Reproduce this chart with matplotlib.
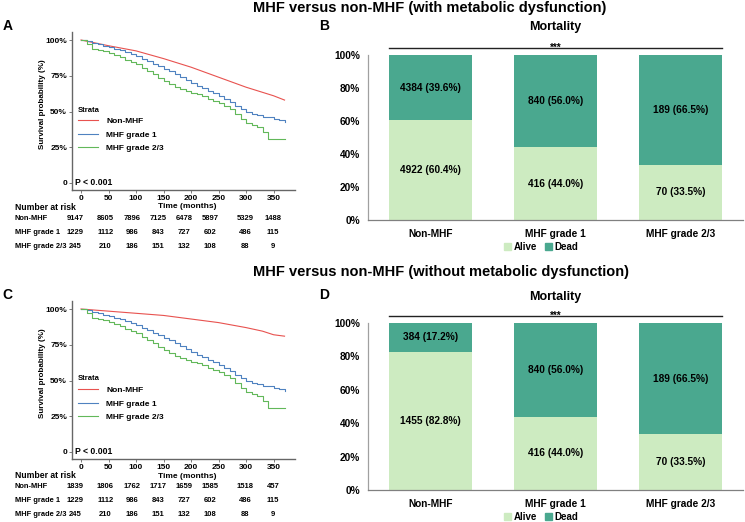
import matplotlib
matplotlib.use("Agg")
import matplotlib.pyplot as plt
from matplotlib.lines import Line2D
from matplotlib.patches import Patch
from matplotlib.transforms import blended_transform_factory

plt.rcParams['font.family'] = ['Liberation Sans', 'DejaVu Sans']
plt.rcParams['font.weight'] = 'bold'
plt.rcParams['axes.labelweight'] = 'bold'

# ---- Kaplan-Meier data ----
t_smooth = [0, 50, 100, 150, 200, 250, 300, 330, 350, 370]
surv_nonmhf_md = [100, 96, 92.4, 87, 81, 74, 67, 63.4, 61, 58]
surv_nonmhf_nomd = [100, 98.5, 97, 95.5, 93, 90.5, 87, 84.5, 82, 81]

t_step = [0, 10, 20, 30, 40, 50, 60, 70, 80, 90, 100, 110, 120, 130, 140, 150,
          160, 170, 180, 190, 200, 210, 220, 230, 240, 250, 260, 270, 280, 290,
          300, 310, 320, 330, 340, 350, 360, 370]
surv_grade1 = [100, 99, 98, 97, 96, 95, 94, 93, 91.5, 90.5, 89, 87, 85.5, 83.5,
               82, 80, 78, 76, 74, 72, 70, 68, 66.5, 64.5, 63, 61, 59, 56.5, 54,
               52, 50, 48.5, 47.5, 46.5, 46, 45, 44, 43]
surv_grade23 = [100, 97, 94, 93, 92, 91, 89.5, 88, 86, 84.5, 83, 80.5, 78, 76,
                73.5, 71.5, 69, 67, 65.5, 64, 63, 62, 60.5, 59, 57.5, 56, 54,
                51.5, 48, 44.5, 42, 40.5, 39, 36, 31, 31, 31, 31]

time_ticks = [0, 50, 100, 150, 200, 250, 300, 350]
risk_cols = [-10, 44, 93, 140, 187, 235, 298, 349]
groups = ['Non-MHF', 'MHF grade 1', 'MHF grade 2/3']
risk_nonmhf_md = [9147, 8605, 7896, 7125, 6478, 5897, 5329, 1488]
risk_nonmhf_nomd = [1839, 1806, 1762, 1717, 1659, 1585, 1518, 457]
risk_grade1 = [1229, 1112, 986, 843, 727, 602, 486, 115]
risk_grade23 = [245, 210, 186, 151, 132, 108, 88, 9]

# ---- Mortality bar data ----
alive_n_md = [4922, 416, 70]
alive_pct_md = [60.4, 44.0, 33.5]
dead_n_md = [4384, 840, 189]
dead_pct_md = [39.6, 56.0, 66.5]
alive_n_nomd = [1455, 416, 70]
alive_pct_nomd = [82.8, 44.0, 33.5]
dead_n_nomd = [384, 840, 189]
dead_pct_nomd = [17.2, 56.0, 66.5]

RED, BLUE, GREEN = '#e8524f', '#4f82c0', '#62b85a'
ALIVE, DEAD = '#cdebc1', '#4aa88f'

W, H = 745, 522
fig = plt.figure(figsize=(W / 100, H / 100), dpi=100)


def box(l, t, r, b):
    return [l / W, 1 - b / H, (r - l) / W, (b - t) / H]


def ftext(x, y, s, **kw):
    fig.text(x / W, 1 - y / H, s, **kw)


def draw_km(top, red_vals, risk_red):
    ax = fig.add_axes(box(72, top, 295, top + 158))
    ax.plot(t_smooth, red_vals, color=RED, lw=0.8)
    ax.plot(t_step, surv_grade1, color=BLUE, lw=0.8, drawstyle='steps-post')
    ax.plot(t_step, surv_grade23, color=GREEN, lw=0.8, drawstyle='steps-post')
    ax.set_xlim(-16.4, 389)
    ax.set_ylim(-4.9, 105.6)
    ax.set_xticks(time_ticks)
    ax.set_yticks([0, 25, 50, 75, 100])
    ax.set_yticklabels(['0', '25%', '50%', '75%', '100%'])
    for s in ['top', 'right']:
        ax.spines[s].set_visible(False)
    for s in ['left', 'bottom']:
        ax.spines[s].set_color('#666666')
        ax.spines[s].set_linewidth(1.0)
    ax.tick_params(labelsize=6, length=2, width=0.6, color='#666666', pad=1.5)
    ax.text(-11, 0, 'P < 0.001', fontsize=6.2, va='center', ha='left')
    # legend
    ftext(78, top + 78, 'Strata', fontsize=5.5, va='center')
    handles = [Line2D([], [], color=c, lw=0.8) for c in (RED, BLUE, GREEN)]
    ax.legend(handles, groups, loc='upper left',
              bbox_to_anchor=(74 / W, 1 - (top + 81) / H),
              bbox_transform=fig.transFigure, frameon=False,
              fontsize=6, handlelength=2.4, handletextpad=1.0,
              labelspacing=0.7, borderpad=0)
    ftext(43, top + 72, 'Survival probability (%)', rotation=90,
          ha='center', va='center', fontsize=5.8)
    # number at risk table
    ftext(15, top + 175, 'Number at risk', fontsize=6.2, va='center')
    ftext(187, top + 175, 'Time (months)', fontsize=6, va='center', ha='center')
    tr = blended_transform_factory(ax.transData, fig.transFigure)
    rows = [risk_red, risk_grade1, risk_grade23]
    for i, (g, vals) in enumerate(zip(groups, rows)):
        y = 1 - (top + 186 + 14 * i) / H
        fig.text(15 / W, y, g, fontsize=5.4, va='center')
        for c, v in zip(risk_cols, vals):
            ax.text(c, y, str(v), transform=tr, fontsize=5.5,
                    ha='center', va='center')
    return ax


def draw_bars(top, bottom, alive_n, alive_pct, dead_n, dead_pct):
    ax = fig.add_axes(box(368, top, 743, bottom))
    x = list(range(len(groups)))
    alive = [p / 100 for p in alive_pct]
    dead = [p / 100 for p in dead_pct]
    ax.bar(x, alive, width=0.66, color=ALIVE)
    ax.bar(x, dead, width=0.66, bottom=alive, color=DEAD)
    for i in x:
        ax.text(i, alive[i] / 2, f'{alive_n[i]} ({alive_pct[i]:.1f}%)',
                ha='center', va='center', fontsize=7.3)
        ax.text(i, alive[i] + dead[i] / 2, f'{dead_n[i]} ({dead_pct[i]:.1f}%)',
                ha='center', va='center', fontsize=7.3)
    ax.set_xlim(-0.5, 2.5)
    ax.set_ylim(0, 1)
    ax.set_xticks(x)
    ax.set_xticklabels(groups)
    ax.set_yticks([0, 0.2, 0.4, 0.6, 0.8, 1.0])
    ax.set_yticklabels(['0%', '20%', '40%', '60%', '80%', '100%'])
    ax.tick_params(axis='y', length=0, labelsize=7.3, pad=5.5)
    ax.tick_params(axis='x', length=0, labelsize=7.3, pad=6.3)
    for s in ['top', 'right']:
        ax.spines[s].set_visible(False)
    ax.spines['left'].set_color('#a0a0a0')
    ax.spines['bottom'].set_color('#808080')
    for s in ['left', 'bottom']:
        ax.spines[s].set_linewidth(0.9)
    ax.plot([-0.33, 2.33], [1.042, 1.042], color='#222222', lw=1.0,
            clip_on=False)
    ax.annotate('***', xy=(1, 1.042), xytext=(0, -2.2),
                textcoords='offset points', ha='center', va='baseline',
                fontsize=7, annotation_clip=False)
    ax.legend([Patch(color=ALIVE), Patch(color=DEAD)], ['Alive', 'Dead'],
              loc='center', bbox_to_anchor=(541 / W, 1 - (bottom + 27) / H),
              bbox_transform=fig.transFigure, ncol=2, frameon=False,
              fontsize=7, handlelength=0.7, handleheight=0.7,
              handletextpad=0.25, columnspacing=0.8, borderpad=0)
    return ax


# top row: with metabolic dysfunction
ftext(253, 8, 'MHF versus non-MHF (with metabolic dysfunction)',
      fontsize=10.5, ha='left', va='center')
ftext(3, 26, 'A', fontsize=10, va='center')
ftext(319, 26, 'B', fontsize=10, va='center')
ftext(555, 27, 'Mortality', fontsize=9, ha='center', va='center')
draw_km(32, surv_nonmhf_md, risk_nonmhf_md)
draw_bars(55, 220, alive_n_md, alive_pct_md, dead_n_md, dead_pct_md)

# bottom row: without metabolic dysfunction
ftext(253, 272, 'MHF versus non-MHF (without metabolic dysfunction)',
      fontsize=10.5, ha='left', va='center')
ftext(2, 295, 'C', fontsize=10, va='center')
ftext(319, 295, 'D', fontsize=10, va='center')
ftext(555, 297, 'Mortality', fontsize=9, ha='center', va='center')
draw_km(301, surv_nonmhf_nomd, risk_nonmhf_nomd)
draw_bars(323, 490, alive_n_nomd, alive_pct_nomd, dead_n_nomd, dead_pct_nomd)

fig.savefig('out.png', dpi=100)
